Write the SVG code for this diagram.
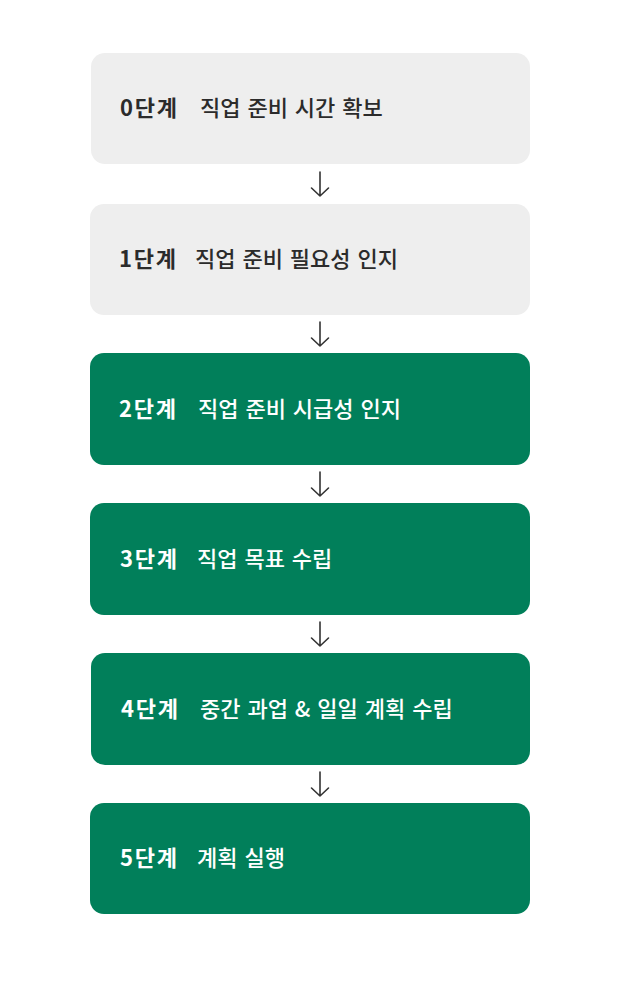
<svg xmlns="http://www.w3.org/2000/svg" width="625" height="982" viewBox="0 0 625 982">
<style>
.g{fill:#eeeeee}
.k{fill:#017f5a}
.t{font-family:"Noto Sans CJK KR","Noto Sans",sans-serif;font-size:22px}
.s{font-weight:700;letter-spacing:1.8px}
.c{font-weight:500;word-spacing:2px}
.dk{fill:#2b2b2b}
.wh{fill:#ffffff}
.a{stroke:#333333;stroke-width:1.6;fill:none;stroke-linecap:round;stroke-linejoin:round}
</style>
<rect width="625" height="982" fill="#ffffff"/>
<g id="step0">
<rect class="g" x="91" y="53" width="439" height="111" rx="14"/>
<text class="t s dk" x="120" y="116">0단계</text>
<text class="t c dk" x="200" y="116">직업 준비 시간 확보</text>
</g>
<g id="step1">
<rect class="g" x="90" y="204" width="440" height="111" rx="14"/>
<text class="t s dk" x="119" y="267">1단계</text>
<text class="t c dk" x="195" y="267">직업 준비 필요성 인지</text>
</g>
<g id="step2">
<rect class="k" x="90" y="353" width="440" height="112" rx="14"/>
<text class="t s wh" x="119" y="416.5">2단계</text>
<text class="t c wh" x="198" y="416.5">직업 준비 시급성 인지</text>
</g>
<g id="step3">
<rect class="k" x="90" y="503" width="440" height="112" rx="14"/>
<text class="t s wh" x="120" y="566.5">3단계</text>
<text class="t c wh" x="197" y="566.5">직업 목표 수립</text>
</g>
<g id="step4">
<rect class="k" x="91" y="653" width="439" height="112" rx="14"/>
<text class="t s wh" x="121" y="716.5">4단계</text>
<text class="t c wh" x="200" y="716.5">중간 과업 &amp; 일일 계획 수립</text>
</g>
<g id="step5">
<rect class="k" x="90" y="803" width="440" height="111" rx="14"/>
<text class="t s wh" x="120" y="866">5단계</text>
<text class="t c wh" x="197" y="866">계획 실행</text>
</g>
<g id="connectors">
<path class="a" d="M320 172V196M311.5 188L320 196L328.5 188"/>
<path class="a" d="M320 322V346M311.5 338L320 346L328.5 338"/>
<path class="a" d="M320 472V496M311.5 488L320 496L328.5 488"/>
<path class="a" d="M320 622V646M311.5 638L320 646L328.5 638"/>
<path class="a" d="M320 772V796M311.5 788L320 796L328.5 788"/>
</g>
</svg>
